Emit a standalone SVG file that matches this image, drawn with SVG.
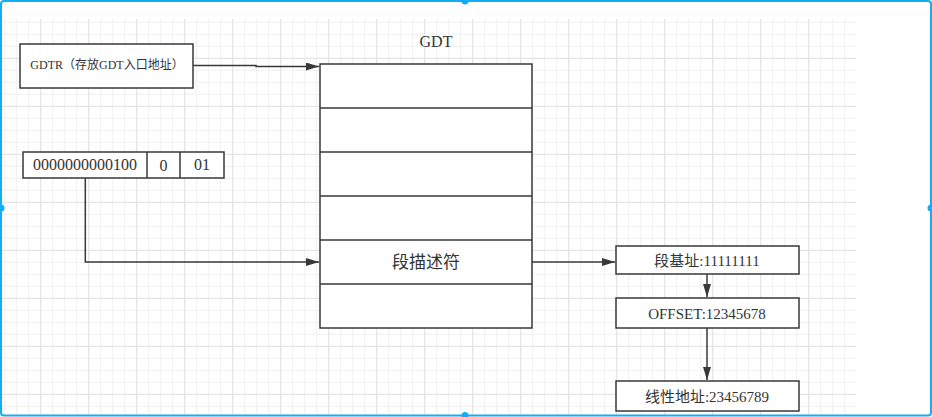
<svg xmlns="http://www.w3.org/2000/svg" width="932" height="417" viewBox="0 0 932 417">
<style>
.box{fill:#ffffff;stroke:#383838;stroke-width:1.5}
.cell{fill:none;stroke:#383838;stroke-width:1.5}
.conn{fill:none;stroke:#383838;stroke-width:1.5}
.t{font-family:"Liberation Serif","Noto Sans CJK SC",serif;fill:#333333;text-anchor:middle}
.cjk{font-family:"Noto Sans CJK SC","Liberation Sans",sans-serif;fill:#333333;text-anchor:middle}
</style>
<defs>
<pattern id="minor" patternUnits="userSpaceOnUse" x="4.2" y="9.8" width="12" height="12">
<path d="M0.5 0V12M0 0.5H12" stroke="#f0f0f0" stroke-width="1" fill="none"/>
</pattern>
<pattern id="major" patternUnits="userSpaceOnUse" x="40.2" y="9.8" width="48" height="48">
<path d="M0.5 0V48M0 0.5H48" stroke="#e2e2e2" stroke-width="1" fill="none"/>
</pattern>
<marker id="arr" markerUnits="userSpaceOnUse" markerWidth="13" markerHeight="8" refX="13" refY="4" orient="auto">
<path d="M0,0 L13,4 L0,8 Z" fill="#383838"/>
</marker>
</defs>
<rect x="0" y="0" width="932" height="417" fill="#ffffff"/>
<rect x="0" y="19" width="856" height="398" fill="url(#minor)"/>
<rect x="0" y="19" width="856" height="398" fill="url(#major)"/>

<g id="connectors">
<path class="conn" d="M193,65.5 H256 V66.5 H319" marker-end="url(#arr)"/>
<path class="conn" d="M85.3,178 V262 H319" marker-end="url(#arr)"/>
<path class="conn" d="M532,262 H615" marker-end="url(#arr)"/>
<path class="conn" d="M707,274 V297" marker-end="url(#arr)"/>
<path class="conn" d="M707,328 V380" marker-end="url(#arr)"/>
</g>

<g id="gdtr">
<rect class="box" x="20" y="44" width="173" height="44"/>
<text class="t" x="107" y="69" font-size="12">GDTR（存放GDT入口地址）</text>
</g>

<g id="gdt-title">
<text class="t" x="436" y="46.5" font-size="16">GDT</text>
</g>

<g id="gdt">
<rect class="box" x="320" y="64" width="212" height="264"/>
<path class="cell" d="M320,108H532M320,152H532M320,196H532M320,240H532M320,284H532"/>
<text class="cjk" x="426" y="267.5" font-size="17">段描述符</text>
</g>

<g id="selector">
<rect class="box" x="23" y="152" width="201" height="26"/>
<path class="cell" d="M147,152V178M180,152V178"/>
<text class="t" x="85" y="170" font-size="16">0000000000100</text>
<text class="t" x="163.5" y="171" font-size="16">0</text>
<text class="t" x="202" y="170" font-size="16">01</text>
</g>

<g id="base">
<rect class="box" x="616" y="246" width="183" height="28"/>
<text class="t" x="707" y="265.5" font-size="15">段基址:11111111</text>
</g>

<g id="offset">
<rect class="box" x="616" y="298" width="183" height="30"/>
<text class="t" x="707" y="318.5" font-size="15">OFFSET:12345678</text>
</g>

<g id="linear">
<rect class="box" x="616" y="381" width="183" height="30"/>
<text class="t" x="707" y="402" font-size="15">线性地址:23456789</text>
</g>

<g id="frame">
<rect x="1" y="1" width="930" height="414.5" rx="3" fill="none" stroke="#12aef5" stroke-width="2"/>
<circle cx="465" cy="1" r="3.5" fill="#12aef5"/>
<circle cx="1" cy="208" r="3.5" fill="#12aef5"/>
<circle cx="931" cy="208" r="3.5" fill="#12aef5"/>
<circle cx="465" cy="415.5" r="3.5" fill="#12aef5"/>
</g>
</svg>
